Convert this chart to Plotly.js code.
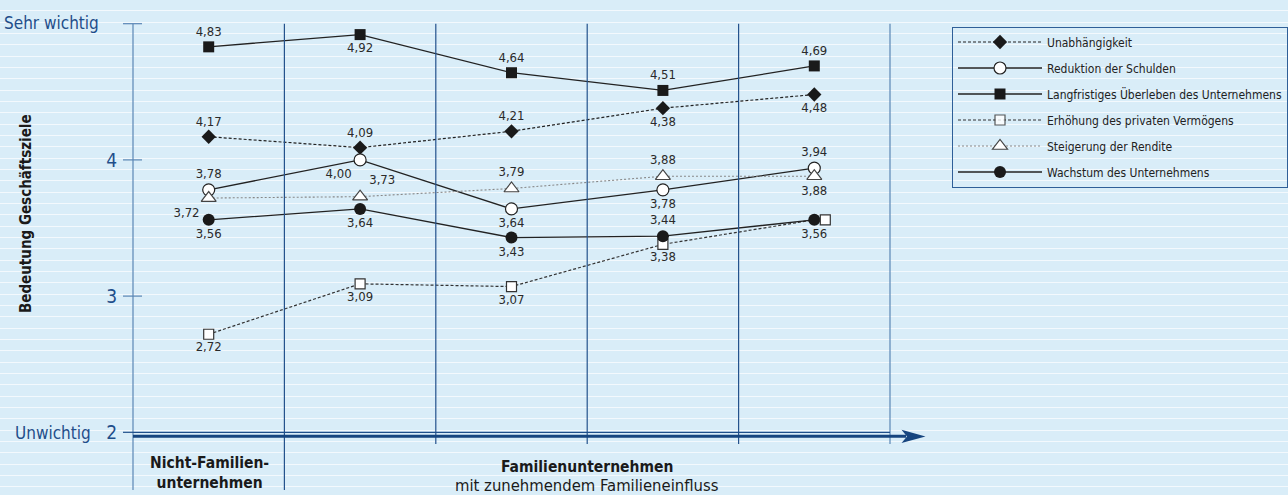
<!DOCTYPE html>
<html>
<head>
<meta charset="utf-8">
<script src="https://cdn.plot.ly/plotly-3.0.1.min.js"></script>
<style>
  html, body { margin: 0; padding: 0; }
  body {
    width: 1288px; height: 495px; overflow: hidden;
    background-color: #d9edf8;
    background-image: repeating-linear-gradient(180deg, #d9edf8 0px, #d9edf8 10.333px, #f3f9fd 10.333px, #f3f9fd 11.333px);
  }
  #chart { width: 1288px; height: 495px; }
</style>
</head>
<body>
<div id="chart"></div>
<script>
// ---------- data ----------
const categories = ['Nicht-Familienunternehmen', 'FU Stufe 1', 'FU Stufe 2', 'FU Stufe 3', 'FU Stufe 4'];
const seriesNames = [
  'Unabhängigkeit',
  'Reduktion der Schulden',
  'Langfristiges Überleben des Unternehmens',
  'Erhöhung des privaten Vermögens',
  'Steigerung der Rendite',
  'Wachstum des Unternehmens'
];
const unabhaengigkeit   = [4.17, 4.09, 4.21, 4.38, 4.48];
const reduktionSchulden = [3.78, 4.00, 3.64, 3.78, 3.94];
const ueberleben        = [4.83, 4.92, 4.64, 4.51, 4.69];
const vermoegen         = [2.72, 3.09, 3.07, 3.38, 3.56];
const rendite           = [3.72, 3.73, 3.79, 3.88, 3.88];
const wachstum          = [3.56, 3.64, 3.43, 3.44, 3.56];
const yTickVals = [2, 3, 4];
const yTickText = ['2', '3', '4'];
const yTopLabel = 'Sehr wichtig';
const yBottomLabel = 'Unwichtig';
const yTitle = 'Bedeutung Geschäftsziele';
const groupLabel1 = 'Nicht-Familien-<br>unternehmen';
const groupLabel2a = 'Familienunternehmen';
const groupLabel2b = 'mit zunehmendem Familieneinfluss';

// ---------- styling / layout ----------
const FONT = "'Liberation Sans Narrow', 'Arial Narrow', 'DejaVu Sans Condensed', sans-serif";
const INK = '#222222';
const BLUE = '#1f4e8a';
const STEEL = '#5a86b5';
const L = 133, R = 890, T = 10, B = 490;        // plot area in px
const Y0 = 2 - (B - 432.3) / 136.2, Y1 = 5 + (23.7 - T) / 136.2;
const px = x => (x - L) / (R - L);
const py = y => (B - y) / (B - T);
const vy = v => (v - Y0) / (Y1 - Y0);
const fmt = v => v.toFixed(2).replace('.', ',');

const pos = {
  unab: ['top center','top center','top center','bottom center','bottom center'],
  red:  ['top center','bottom left','bottom center','bottom center','top center'],
  ueb:  ['top center','bottom center','top center','top center','top center'],
  verm: ['bottom center','bottom center','bottom center','bottom center','bottom center'],
  ren:  ['bottom left','top right','top center','top center','bottom center'],
  wach: ['bottom center','bottom center','bottom center','top center','bottom center']
};
const textFont = {family: FONT, size: 13, color: '#2a2a2a'};

function tr(name, y, marker, line, textpos, text) {
  return {
    type: 'scatter', mode: 'lines+markers+text', name: name, legendgroup: name,
    x: categories, y: y, text: text || y.map(fmt), textposition: textpos,
    textfont: textFont, marker: marker, line: line, cliponaxis: false,
    hoverinfo: 'x+y+name'
  };
}

const traces = [
  tr(seriesNames[0], unabhaengigkeit,
     {symbol: 'diamond', size: 11, color: '#1a1a1a', line: {width: 0}},
     {color: INK, width: 1.2, dash: '3px,2px'}, pos.unab),
  tr(seriesNames[1], reduktionSchulden,
     {symbol: 'circle', size: 12, color: '#ffffff', line: {color: INK, width: 1.2}},
     {color: INK, width: 1.3}, pos.red),
  tr(seriesNames[2], ueberleben,
     {symbol: 'square', size: 11, color: '#1a1a1a', line: {width: 0}},
     {color: INK, width: 1.3}, pos.ueb),
  tr(seriesNames[3], vermoegen,
     {symbol: 'square', size: 10, color: '#ffffff', line: {color: '#333', width: 1.2},
      opacity: vermoegen.map((v, i) => i < vermoegen.length - 1 ? 1 : 0)},
     {color: '#333', width: 1.2, dash: '3px,2px'}, pos.verm,
     vermoegen.map((v, i) => i < vermoegen.length - 1 ? fmt(v) : '')),
  tr(seriesNames[4], rendite,
     {symbol: 'triangle-up', size: 13, color: '#ffffff', line: {color: '#444', width: 1.2}},
     {color: '#888', width: 1.1, dash: '2px,2px'}, pos.ren),
  tr(seriesNames[5], wachstum,
     {symbol: 'circle', size: 12, color: '#1a1a1a', line: {width: 0}},
     {color: INK, width: 1.3}, pos.wach),
  // last point of "Erhöhung" drawn next to the coinciding "Wachstum" point (shifted overlay axis)
  {type: 'scatter', mode: 'markers', x: [categories[4]], y: [vermoegen[4]], xaxis: 'x2',
   showlegend: false, name: seriesNames[3], hoverinfo: 'y+name', cliponaxis: false,
   marker: {symbol: 'square', size: 10, color: '#ffffff', line: {color: '#333', width: 1.2}}}
];

const shapes = [];
// vertical column lines
for (let i = 0; i <= categories.length; i++) {
  const outer = (i === 0 || i === categories.length);
  shapes.push({type: 'line', xref: 'paper', yref: 'paper', x0: i / categories.length, x1: i / categories.length,
    y0: vy(5), y1: i <= 1 ? py(490) : py(444),
    line: {color: outer ? STEEL : '#24528c', width: 1.2}});
}
// y tick marks
[2, 3, 4, 5].forEach(v => shapes.push({type: 'line', xref: 'paper', yref: 'paper',
  x0: px(123), x1: v === 2 ? px(133) : px(142), y0: vy(v), y1: vy(v),
  line: {color: v === 2 ? BLUE : STEEL, width: 1.2}}));
// horizontal axis: thin + thick line + arrow
shapes.push({type: 'line', xref: 'paper', yref: 'paper', x0: px(133), x1: px(890), y0: py(432.3), y1: py(432.3),
  line: {color: BLUE, width: 1.2}});
shapes.push({type: 'line', xref: 'paper', yref: 'paper', x0: px(133), x1: px(906), y0: py(436.2), y1: py(436.2),
  line: {color: '#16457f', width: 3}});
shapes.push({type: 'path', xref: 'paper', yref: 'paper',
  path: `M ${px(901.5)} ${py(429.8)} L ${px(925.5)} ${py(436.5)} L ${px(901.5)} ${py(443)} L ${px(907)} ${py(436.4)} Z`,
  fillcolor: '#16457f', line: {width: 0}});

const annotations = [
  {text: yTopLabel, xref: 'paper', yref: 'paper', x: px(101), y: py(23.5), xanchor: 'right', yanchor: 'middle',
   showarrow: false, font: {family: FONT, size: 17, color: BLUE}},
  {text: yBottomLabel, xref: 'paper', yref: 'paper', x: px(93), y: py(432.5), xanchor: 'right', yanchor: 'middle',
   showarrow: false, font: {family: FONT, size: 17, color: BLUE}},
  {text: '<b>' + yTitle + '</b>', xref: 'paper', yref: 'paper', x: px(26), y: py(214), xanchor: 'center', yanchor: 'middle',
   textangle: -90, showarrow: false, font: {family: FONT, size: 15, color: '#1a1a1a'}},
  {text: '<b>' + groupLabel1 + '</b>', xref: 'paper', yref: 'paper', x: px(209), y: py(473), xanchor: 'center', yanchor: 'middle',
   showarrow: false, font: {family: FONT, size: 15.5, color: '#1a1a1a'}},
  {text: '<b>' + groupLabel2a + '</b>', xref: 'paper', yref: 'paper', x: px(587), y: py(467), xanchor: 'center', yanchor: 'middle',
   showarrow: false, font: {family: FONT, size: 15.5, color: '#1a1a1a'}},
  {text: groupLabel2b, xref: 'paper', yref: 'paper', x: px(587), y: py(485.5), xanchor: 'center', yanchor: 'middle',
   showarrow: false, font: {family: FONT, size: 16.5, color: '#1a1a1a'}}
];

const layout = {
  width: 1288, height: 495,
  margin: {l: L, r: 1288 - R, t: T, b: 495 - B, autoexpand: false},
  paper_bgcolor: 'rgba(0,0,0,0)', plot_bgcolor: 'rgba(0,0,0,0)',
  separators: ',.',
  font: {family: FONT, color: INK},
  showlegend: true,
  xaxis: {type: 'category', categoryorder: 'array', categoryarray: categories, range: [-0.5, 4.5],
          showgrid: false, zeroline: false, showline: false, showticklabels: false, ticks: '', fixedrange: true},
  xaxis2: {type: 'category', categoryorder: 'array', categoryarray: categories, overlaying: 'x',
           range: [-0.5 - 11 / 151.4, 4.5 - 11 / 151.4], visible: false, showgrid: false, zeroline: false},
  yaxis: {range: [Y0, Y1], tickvals: yTickVals, ticktext: yTickText, ticks: '', showgrid: false,
          zeroline: false, showline: false, ticklabelstandoff: 15,
          tickfont: {family: FONT, size: 19, color: BLUE}, fixedrange: true},
  legend: {x: px(952), y: py(26.5), xanchor: 'left', yanchor: 'top', bgcolor: 'rgba(0,0,0,0)',
           bordercolor: '#2f5f98', borderwidth: 1, traceorder: 'grouped', tracegroupgap: 7,
           itemwidth: 84, font: {family: FONT, size: 12, color: INK}},
  shapes: shapes,
  annotations: annotations
};

Plotly.newPlot('chart', traces, layout, {displayModeBar: false, staticPlot: true});
</script>
</body>
</html>
